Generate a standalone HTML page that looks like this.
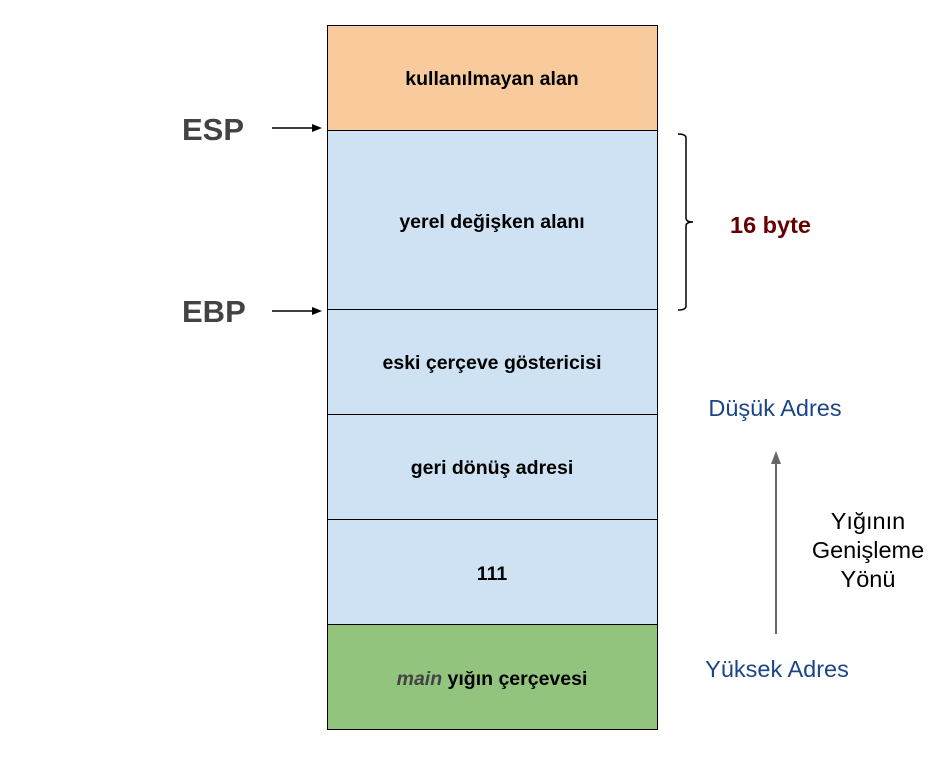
<!DOCTYPE html>
<html><head><meta charset="utf-8"><style>
html,body{margin:0;padding:0;background:#fff;width:947px;height:759px;overflow:hidden}
svg text{font-family:"Liberation Sans",Arial,sans-serif}
</style></head><body>
<svg width="947" height="759" viewBox="0 0 947 759" xmlns="http://www.w3.org/2000/svg">
<g stroke="#000" stroke-width="1">
<rect x="327.5" y="25.5" width="330" height="105" fill="#f9cb9c"/>
<rect x="327.5" y="130.5" width="330" height="179" fill="#cfe2f3"/>
<rect x="327.5" y="309.5" width="330" height="105" fill="#cfe2f3"/>
<rect x="327.5" y="414.5" width="330" height="105" fill="#cfe2f3"/>
<rect x="327.5" y="519.5" width="330" height="105" fill="#cfe2f3"/>
<rect x="327.5" y="624.5" width="330" height="105" fill="#93c47d"/>
</g>
<g font-size="19.5" font-weight="bold" text-anchor="middle" fill="#000">
<text x="492" y="85">kullanılmayan alan</text>
<text x="492" y="228">yerel değişken alanı</text>
<text x="492" y="369">eski çerçeve göstericisi</text>
<text x="492" y="474">geri dönüş adresi</text>
<text x="492" y="580">111</text>
<text x="492" y="685"><tspan font-style="italic" fill="#434343">main</tspan> yığın çerçevesi</text>
</g>
<g font-size="31" font-weight="bold" fill="#434343">
<text x="182" y="140">ESP</text>
<text x="182" y="322">EBP</text>
</g>
<g stroke="#000" stroke-width="1.5">
<line x1="272" y1="128" x2="314" y2="128"/>
<line x1="272" y1="311" x2="314" y2="311"/>
</g>
<polygon points="322,128 312,124 312,132" fill="#000"/>
<polygon points="322,311 312,307 312,315" fill="#000"/>
<path d="M678,134 Q686,134 686,138 L686,218 Q686,222 693,222 Q686,222 686,226 L686,306 Q686,310 678,310" fill="none" stroke="#000" stroke-width="1.5"/>
<text x="730" y="233" font-size="23.5" font-weight="bold" fill="#660000">16 byte</text>
<text x="775" y="416" font-size="23.5" text-anchor="middle" fill="#1c4587">Düşük Adres</text>
<text x="777" y="677" font-size="23.5" text-anchor="middle" fill="#1c4587">Yüksek Adres</text>
<g font-size="23.5" text-anchor="middle" fill="#000">
<text x="868" y="529">Yığının</text>
<text x="868" y="558">Genişleme</text>
<text x="868" y="587">Yönü</text>
</g>
<line x1="776" y1="634" x2="776" y2="462" stroke="#666" stroke-width="2"/>
<polygon points="776,451 771,464 781,464" fill="#666"/>
</svg>
</body></html>
